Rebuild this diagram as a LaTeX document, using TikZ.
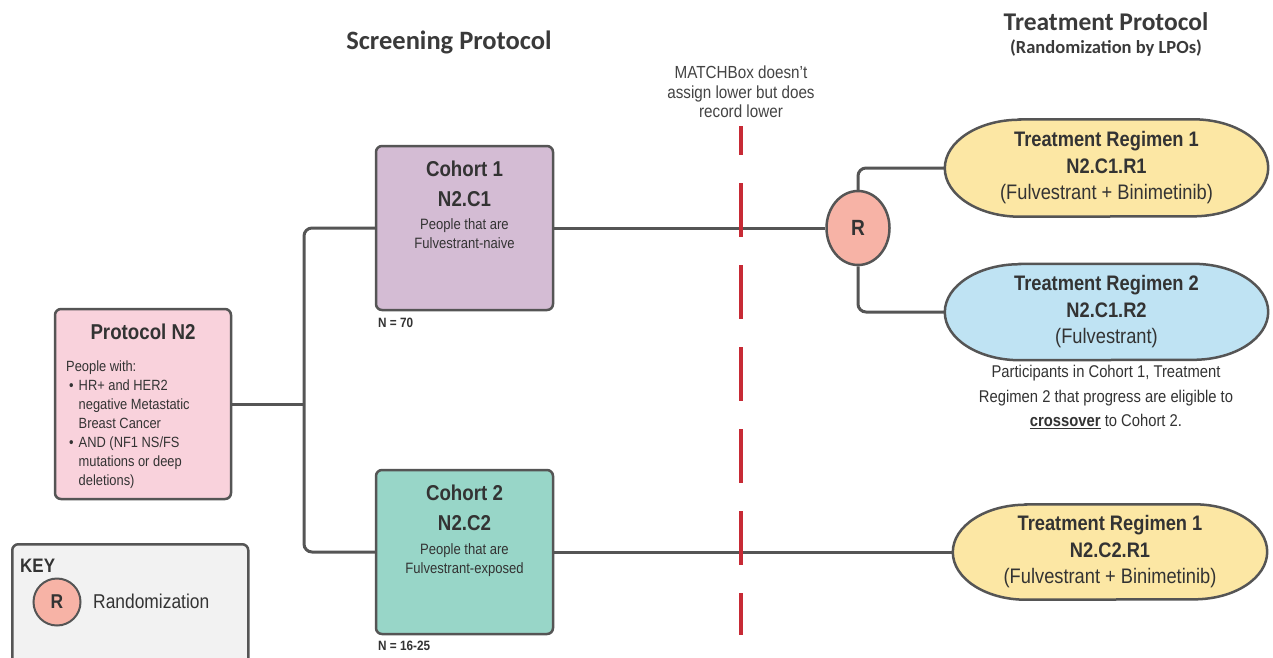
\documentclass[tikz,border=0pt]{standalone}
\usepackage{fontspec}
\setmainfont{Liberation Sans}[FakeStretch=0.87]
\newfontfamily\headfont{Carlito}
\usetikzlibrary{shapes.geometric,backgrounds,calc}

\definecolor{ink}{HTML}{333333}
\definecolor{headink}{HTML}{3A3A3A}
\definecolor{notegray}{HTML}{444444}
\definecolor{linegray}{HTML}{555555}
\definecolor{pinkfill}{HTML}{F9D2DC}
\definecolor{lilac}{HTML}{D4BCD4}
\definecolor{tealfill}{HTML}{98D6C8}
\definecolor{salmon}{HTML}{F7B3A6}
\definecolor{yellowfill}{HTML}{FCE7A4}
\definecolor{bluefill}{HTML}{BFE3F3}
\definecolor{keygray}{HTML}{F2F2F2}
\definecolor{redcut}{HTML}{C72A35}

\tikzset{
  conn/.style={draw=linegray, line width=3pt},
  box/.style={draw=linegray, line width=2.5pt, rounded corners=6pt, inner sep=0pt},
  cohort/.style={box, minimum width=177pt, minimum height=164pt},
  bigbold/.style={anchor=base, font=\bfseries\fontsize{21.5}{24}\selectfont},
  smalltext/.style={anchor=base, font=\fontsize{15}{18}\selectfont},
  nlabel/.style={anchor=base west, font=\bfseries\fontsize{13.5}{16}\selectfont},
  regimen/.style={align=center, inner sep=0pt, font=\fontsize{21}{26.5}\selectfont},
  rcircle/.style={ellipse, draw=linegray, line width=2.5pt, fill=salmon, inner sep=0pt},
  redcutline/.style={draw=redcut, line width=4pt, dash pattern=on 54pt off 28pt, dash phase=25pt},
}

% stadium outline behind a node: name, end-cap half length, half height, fill
\newcommand{\stadium}[4]{%
  \begin{scope}[on background layer]
    \path[draw=linegray, line width=2.5pt, fill=#4]
      ($(#1.north west)+(#2,0)$) -- ($(#1.north east)-(#2,0)$)
      arc[start angle=90, end angle=-90, x radius=#2pt, y radius=#3pt]
      -- ($(#1.south west)+(#2,0)$)
      arc[start angle=270, end angle=90, x radius=#2pt, y radius=#3pt]
      -- cycle;
  \end{scope}}

\begin{document}
\begin{tikzpicture}[x=1pt, y=-1pt, every node/.style={text=ink, inner sep=0pt}]
\useasboundingbox (0,0) rectangle (1273,657);
\begin{scope}[on background layer]
  \fill[white] (0,0) rectangle (1273,657);
\end{scope}

% headings
\node[text=headink, font=\headfont\bfseries\fontsize{26.5}{30}\selectfont] (hscr) at (449,42) {Screening Protocol};
\node[text=headink, font=\headfont\bfseries\fontsize{25.5}{30}\selectfont] (htrt) at (1106,22) {Treatment Protocol};
\node[text=headink, font=\headfont\bfseries\fontsize{18.5}{22}\selectfont] (hsub) at (1106,48) {(Randomization by LPOs)};

% MATCHBox note above the cut line
\node[align=center, text=notegray, font=\fontsize{17.5}{19.5}\selectfont] (mnote) at (741,92)
  {MATCHBox doesn’t\\assign lower but does\\record lower};

% protocol box
\node[box, fill=pinkfill, minimum width=176pt, minimum height=190pt] (p2) at (143,404) {};
\node[bigbold] (p2t) at (143,339.5) {Protocol N2};
\node[anchor=north west, align=left, font=\fontsize{14.8}{19}\selectfont] (p2b) at (66,361)
  {People with:\\
   \hspace*{3pt}\textbullet\hspace{5pt}HR+ and HER2\\
   \hspace*{12.5pt}negative Metastatic\\
   \hspace*{12.5pt}Breast Cancer\\
   \hspace*{3pt}\textbullet\hspace{5pt}AND (NF1 NS/FS\\
   \hspace*{12.5pt}mutations or deep\\
   \hspace*{12.5pt}deletions)};

% cohort 1
\node[cohort, fill=lilac] (c1) at (464.5,228) {};
\node[bigbold] (c1a) at (464.5,176.5) {Cohort 1};
\node[bigbold] (c1b) at (464.5,206) {N2.C1};
\node[smalltext] (c1c) at (464.5,229) {People that are};
\node[smalltext] (c1d) at (464.5,248.5) {Fulvestrant-naive};
\node[nlabel] (n1) at (378,327) {N = 70};

% cohort 2
\node[cohort, fill=tealfill] (c2) at (464.5,552) {};
\node[bigbold] (c2a) at (464.5,500.5) {Cohort 2};
\node[bigbold] (c2b) at (464.5,530) {N2.C2};
\node[smalltext] (c2c) at (464.5,554.5) {People that are};
\node[smalltext] (c2d) at (464.5,573.5) {Fulvestrant-exposed};
\node[nlabel] (n2) at (378,650) {N = 16-25};

% randomization point
\node[rcircle, minimum width=63pt, minimum height=74pt, font=\bfseries\fontsize{22}{24}\selectfont] (R) at (858,228) {R};

% treatment regimens
\node[regimen, minimum width=323pt, minimum height=97pt] (r1) at (1106.5,168)
  {\textbf{Treatment Regimen 1}\\\textbf{N2.C1.R1}\\(Fulvestrant + Binimetinib)};
\stadium{r1}{75}{48.5}{yellowfill}

\node[regimen, minimum width=323pt, minimum height=96pt] (r2) at (1106.5,312)
  {\textbf{Treatment Regimen 2}\\\textbf{N2.C1.R2}\\(Fulvestrant)};
\stadium{r2}{75}{48}{bluefill}

\node[regimen, minimum width=314pt, minimum height=95pt] (r3) at (1110,552)
  {\textbf{Treatment Regimen 1}\\\textbf{N2.C2.R1}\\(Fulvestrant + Binimetinib)};
\stadium{r3}{73}{47.5}{yellowfill}

\node[align=center, font=\fontsize{17}{24.5}\selectfont] (xnote) at (1106,397)
  {Participants in Cohort 1, Treatment\\Regimen 2 that progress are eligible to\\\underline{\textbf{crossover}} to Cohort 2.};

% key
\node[box, fill=keygray, minimum width=236pt, minimum height=150pt, anchor=north west] (key) at (11,543) {};
\node[anchor=base west, font=\bfseries\fontsize{19.5}{22}\selectfont] (keyt) at (20,572) {KEY};
\node[rcircle, line width=2pt, minimum width=47pt, minimum height=47pt, font=\bfseries\fontsize{20}{22}\selectfont] (keyR) at (57,602) {R};
\node[anchor=west, font=\fontsize{20}{22}\selectfont] (keyl) at (93,601) {Randomization};

% connectors
\coordinate (spine) at (304,404);
\draw[conn] (p2.east) -- (spine);
\draw[conn, rounded corners=8pt] (c1.west) -| (spine) |- (c2.west);
\draw[conn] (c1.east) -- (R.west);
\draw[conn, rounded corners=8pt] (R.north) |- (r1.west);
\draw[conn, rounded corners=8pt] (R.south) |- (r2.west);
\draw[conn] (c2.east) -- (c2.east -| r3.west);

% assignment cut line
\coordinate (dtop) at (741,126);
\coordinate (dbot) at (741,635);
\draw[redcutline] (dtop) -- (dbot);
\end{tikzpicture}
\end{document}
